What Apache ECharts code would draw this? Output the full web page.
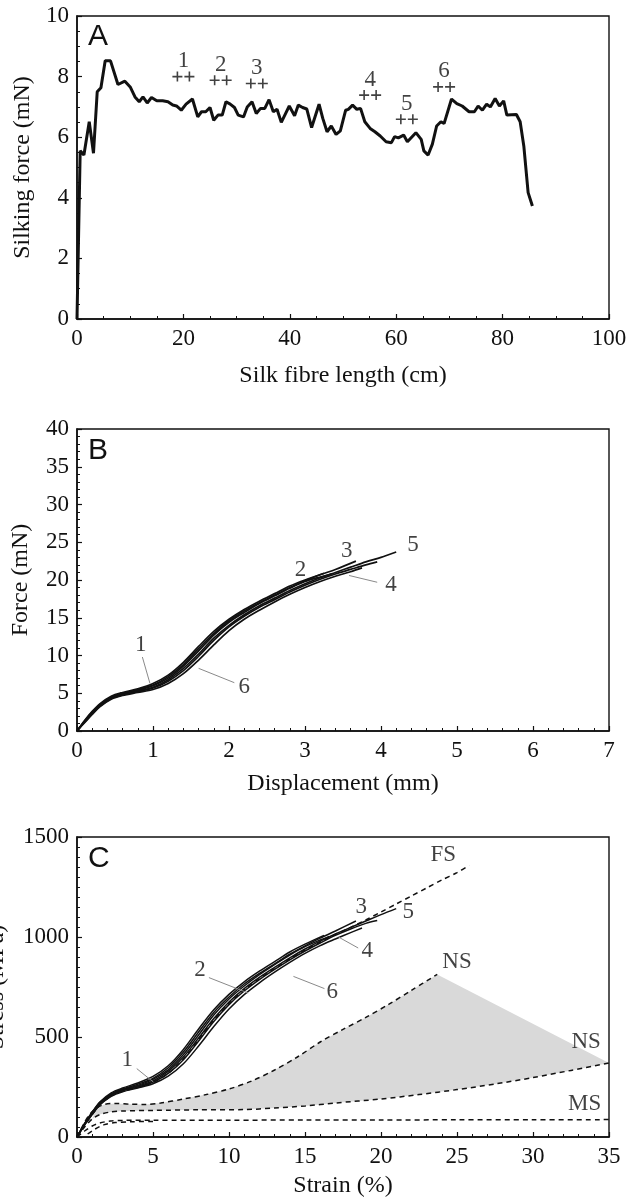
<!DOCTYPE html>
<html><head><meta charset="utf-8">
<script src="https://cdn.jsdelivr.net/npm/echarts@6/dist/echarts.min.js"></script>
<style>html,body{margin:0;padding:0;background:#fff}#c{width:639px;height:1197px}</style>
</head><body><div id="c"></div>
<script>
// ---------- Panel A : silking force vs silk fibre length ----------
const aTrace = [[0,0],[0.6,5.55],[1.3,5.41],[2.3,6.51],[3.1,5.47],[3.8,7.5],[4.5,7.63],[5.3,8.52],[6.3,8.52],[7.7,7.74],[9.0,7.85],[10.0,7.66],[10.9,7.33],[11.7,7.17],[12.4,7.33],[13.2,7.13],[14.0,7.31],[15.0,7.2],[16.1,7.2],[17.1,7.17],[18.0,7.06],[18.7,7.03],[19.6,6.89],[20.5,7.09],[21.7,7.26],[22.7,6.67],[23.4,6.84],[24.2,6.84],[25.0,6.98],[25.7,6.56],[26.5,6.73],[27.3,6.73],[28.0,7.17],[28.8,7.09],[29.6,6.98],[30.3,6.73],[31.3,6.67],[32.0,7.0],[32.9,7.17],[33.7,6.78],[34.5,6.95],[35.3,6.95],[36.1,7.24],[36.9,6.84],[37.6,6.92],[38.4,6.49],[39.2,6.78],[39.9,7.03],[40.9,6.71],[41.6,7.06],[42.4,6.98],[43.2,6.93],[44.1,6.32],[45.5,7.09],[46.2,6.62],[47.0,6.18],[47.8,6.37],[48.7,6.09],[49.5,6.21],[50.5,6.89],[51.0,6.92],[51.8,7.06],[52.6,6.92],[53.3,6.95],[54.1,6.51],[55.1,6.29],[56.0,6.18],[57.0,6.04],[58.1,5.85],[59.1,5.82],[59.7,6.02],[60.4,5.98],[61.4,6.07],[62.1,5.85],[63.7,6.15],[64.7,5.93],[65.2,5.55],[66.0,5.41],[66.8,5.77],[67.6,6.37],[68.4,6.51],[69.0,6.45],[70.4,7.26],[71.4,7.11],[72.4,7.03],[73.7,6.84],[74.7,6.84],[75.4,7.03],[76.2,6.89],[77.0,7.09],[77.7,7.0],[78.6,7.28],[79.4,7.03],[80.2,7.2],[80.8,6.73],[82.6,6.75],[83.3,6.51],[84.0,5.69],[84.8,4.17],[85.6,3.73]];
const aMarkers = [[20.0,8.0,'1'],[27.0,7.88,'2'],[33.8,7.77,'3'],[55.1,7.39,'4'],[62.0,6.59,'5'],[69.0,7.66,'6']];

// ---------- Panel B : force vs displacement (6 samples) ----------
const bCurve1 = [[0,0],[0.1,1.3],[0.2,2.4],[0.3,3.4],[0.45,4.4],[0.6,4.9],[0.8,5.4],[1.0,6.0],[1.2,7.0],[1.4,8.6],[1.6,10.6],[1.8,12.7],[2.0,14.4],[2.2,15.7],[2.4,16.9],[2.6,17.9],[2.8,18.9],[3.0,19.8],[3.2,20.4],[3.35,20.8]];
const bCurve2 = [[0,0],[0.1,1.4],[0.2,2.6],[0.3,3.6],[0.45,4.6],[0.6,5.1],[0.8,5.6],[1.0,6.3],[1.2,7.4],[1.4,9.1],[1.6,11.2],[1.8,13.2],[2.0,14.8],[2.2,16.1],[2.4,17.2],[2.6,18.2],[2.8,19.2],[3.0,20.0],[3.25,20.9]];
const bCurve3 = [[0,0],[0.1,1.3],[0.2,2.5],[0.3,3.5],[0.45,4.5],[0.6,5.0],[0.8,5.5],[1.0,6.1],[1.2,7.2],[1.4,8.8],[1.6,10.9],[1.8,12.9],[2.0,14.6],[2.2,15.9],[2.4,17.0],[2.6,18.0],[2.8,19.0],[3.0,19.9],[3.2,20.7],[3.4,21.4],[3.67,22.5]];
const bCurve4 = [[0,0],[0.1,1.2],[0.2,2.3],[0.3,3.3],[0.45,4.3],[0.6,4.8],[0.8,5.2],[1.0,5.7],[1.2,6.6],[1.4,8.0],[1.6,9.9],[1.8,12.0],[2.0,13.8],[2.2,15.2],[2.4,16.4],[2.6,17.4],[2.8,18.4],[3.0,19.3],[3.2,20.1],[3.4,20.8],[3.6,21.4],[3.8,22.0],[3.95,22.4]];
const bCurve5 = [[0,0],[0.1,1.2],[0.2,2.3],[0.3,3.3],[0.45,4.3],[0.6,4.8],[0.8,5.3],[1.0,5.8],[1.2,6.8],[1.4,8.3],[1.6,10.2],[1.8,12.3],[2.0,14.0],[2.2,15.4],[2.4,16.6],[2.6,17.6],[2.8,18.6],[3.0,19.5],[3.2,20.3],[3.4,21.0],[3.6,21.7],[3.8,22.4],[4.0,23.0],[4.2,23.7]];
const bCurve6 = [[0,0],[0.1,1.1],[0.2,2.2],[0.3,3.2],[0.45,4.2],[0.6,4.7],[0.8,5.1],[1.0,5.5],[1.2,6.3],[1.4,7.6],[1.6,9.4],[1.8,11.4],[2.0,13.3],[2.2,14.8],[2.4,16.0],[2.6,17.1],[2.8,18.1],[3.0,19.0],[3.2,19.8],[3.4,20.5],[3.6,21.1],[3.75,21.6]];
const bLabels = [[0.84,11.4,'1'],[2.94,21.3,'2'],[3.55,23.9,'3'],[4.13,19.3,'4'],[4.42,24.7,'5'],[2.2,5.85,'6']];
const bLeaders = [[[0.86,9.8],[0.96,6.3]],[[1.6,8.3],[2.07,6.4]],[[3.58,20.6],[3.95,19.7]]];

// ---------- Panel C : stress vs strain ----------
const cCurve1 = [[0,0],[0.5,65],[1,120],[1.5,170],[2.25,212],[3,236],[4,258],[5,288],[6,336],[7,412],[8,510],[9,610],[10,690],[11,755],[12,812],[13,862],[14,910],[15,952],[16,985],[16.6,1003]];
const cCurve2 = [[0,0],[0.5,68],[1,125],[1.5,175],[2.25,221],[3,245],[4,270],[5,303],[6,356],[7,438],[8,540],[9,636],[10,713],[11,776],[12,829],[13,877],[14,925],[15,964],[16.25,1008]];
const cCurve3 = [[0,0],[0.5,66],[1,122],[1.5,172],[2.25,216],[3,240],[4,264],[5,293],[6,346],[7,425],[8,525],[9,623],[10,700],[11,765],[12,818],[13,866],[14,914],[15,956],[16,994],[17,1030],[18.35,1080]];
const cCurve4 = [[0,0],[0.5,62],[1,115],[1.5,163],[2.25,207],[3,231],[4,250],[5,274],[6,318],[7,386],[8,480],[9,578],[10,662],[11,730],[12,787],[13,838],[14,886],[15,930],[16,970],[17,1008],[18,1040],[19,1068],[19.75,1082]];
const cCurve5 = [[0,0],[0.5,62],[1,116],[1.5,165],[2.25,209],[3,233],[4,255],[5,280],[6,328],[7,400],[8,495],[9,592],[10,675],[11,742],[12,798],[13,848],[14,896],[15,940],[16,979],[17,1015],[18,1048],[19,1080],[20,1112],[21,1142]];
const cCurve6 = [[0,0],[0.5,60],[1,112],[1.5,160],[2.25,203],[3,226],[4,245],[5,266],[6,304],[7,366],[8,455],[9,552],[10,640],[11,712],[12,771],[13,824],[14,873],[15,918],[16,957],[17,990],[18,1022],[18.75,1045]];
const cFS = [[0,0],[0.5,60],[1,112],[1.5,160],[2.25,205],[3,228],[4,248],[5,272],[6,318],[7,390],[8,487],[9,585],[10,668],[11,735],[12,792],[13,842],[14,890],[15,935],[16,975],[17,1013],[18,1048],[19,1085],[20,1125],[21,1165],[22,1205],[23,1245],[24,1285],[25,1322],[25.8,1358]];
const cNSupper = [[0,0],[0.4,60],[0.8,110],[1.3,145],[1.8,163],[2.5,168],[3.5,164],[4.5,163],[5.5,170],[7,190],[8.5,212],[10,240],[11.5,280],[13,335],[14.5,400],[16,475],[17.5,538],[19,598],[20.5,663],[22,733],[23.7,813]];
const cNSlower = [[0,0],[0.5,50],[1,90],[1.5,112],[2.2,125],[3,130],[5,133],[8,136],[11,137],[13,145],[15,155],[17,170],[20,190],[22.5,212],[25,237],[27.5,265],[30,297],[32.5,333],[35,370]];
const cMS = [[0,0],[0.5,30],[1,55],[1.5,70],[2.2,80],[3,83],[5,84],[10,84],[15,85],[20,85],[25,86],[30,86],[35,87]];
const cMS2 = [[0.7,15],[1.2,40],[1.8,62],[2.5,72],[3.5,76],[5,78]];
const cLabels = [[24.1,1408,'FS'],[25.0,875,'NS'],[33.5,475,'NS'],[33.4,167,'MS'],[18.7,1150,'3'],[21.8,1125,'5'],[19.1,930,'4'],[8.1,833,'2'],[16.8,725,'6'],[3.3,383,'1']];
const cLeaders = [[[17.2,1000],[18.5,945]],[[8.68,797],[11.26,720]],[[14.24,803],[16.28,742]],[[3.93,342],[5.02,275]]];

// ---------- tick settings ----------
const aX = {min:0,max:100,interval:20,minor:4}, aY = {min:0,max:10,interval:2,minor:4};
const bX = {min:0,max:7,interval:1,minor:5}, bY = {min:0,max:40,interval:5,minor:5};
const cX = {min:0,max:35,interval:5,minor:5}, cY = {min:0,max:1500,interval:500,minor:10};

const SERIF = '"Liberation Serif", "Times New Roman", Times, serif';
const INK = '#111111';
const TICK_FS = 23, TITLE_FS = 24, NOTE_FS = 23;

function axisCommon(s, name, gap){
  return {type:'value', min:s.min, max:s.max, interval:s.interval,
    name:name, nameLocation:'middle', nameGap:gap,
    nameTextStyle:{fontFamily:SERIF, fontSize:TITLE_FS, color:INK},
    axisLine:{show:true, onZero:false, lineStyle:{color:INK, width:1.6}},
    axisTick:{show:true, inside:true, length:5, lineStyle:{color:INK, width:1.2}},
    minorTick:{show:true, splitNumber:s.minor, length:3, lineStyle:{color:INK, width:1}},
    axisLabel:{fontFamily:SERIF, fontSize:TICK_FS, color:INK, margin:8, formatter:v=>String(v)},
    splitLine:{show:false}, minorSplitLine:{show:false}};
}
function xAx(idx, s, name, gap){ return Object.assign(axisCommon(s,name,gap), {gridIndex:idx}); }
function yAx(idx, s, name, gap){ return Object.assign(axisCommon(s,name,gap), {gridIndex:idx}); }
function solid(i, data, w, smooth){
  return {type:'line', xAxisIndex:i, yAxisIndex:i, data:data, symbol:'none', smooth:smooth,
    lineStyle:{color:INK, width:w}, z:3, silent:true};
}
function dashed(i, data){
  return {type:'line', xAxisIndex:i, yAxisIndex:i, data:data, symbol:'none', smooth:0.3,
    lineStyle:{color:INK, width:1.5, type:[5,4]}, z:4, silent:true};
}
function leader(i, seg){
  return {type:'line', xAxisIndex:i, yAxisIndex:i, data:seg, symbol:'none',
    lineStyle:{color:'#8a8a8a', width:1}, z:5, silent:true};
}
function labels(i, data){
  return {type:'scatter', xAxisIndex:i, yAxisIndex:i, data:data, symbolSize:1,
    itemStyle:{color:'rgba(0,0,0,0)'}, z:6, silent:true,
    label:{show:true, position:'inside', formatter:p=>p.data[2], fontFamily:SERIF, fontSize:NOTE_FS, color:INK}};
}

const series = [];
// Panel A
series.push(solid(0, aTrace, 3, false));
series.push({type:'scatter', xAxisIndex:0, yAxisIndex:0, data:aMarkers, silent:true, z:5,
  symbol:'path://M0,4.2h10v1.6H0z M4.2,0h1.6v10H4.2z M12,4.2h10v1.6H12z M16.2,0h1.6v10h-1.6z',
  symbolSize:[22,10], itemStyle:{color:INK},
  label:{show:true, position:'top', distance:-1, formatter:p=>p.data[2], fontFamily:SERIF, fontSize:NOTE_FS, color:INK}});
// Panel B
[bCurve1,bCurve2,bCurve3,bCurve4,bCurve5,bCurve6].forEach(c=>series.push(solid(1, c, 1.7, 0.3)));
bLeaders.forEach(s=>series.push(leader(1, s)));
series.push(labels(1, bLabels));
// Panel C gray region between NS curves
series.push({type:'custom', xAxisIndex:2, yAxisIndex:2, data:[[0,0]], z:1, silent:true,
  renderItem:(params, api)=>{
    const up = cNSupper.filter(p=>p[0]>=1);
    const lo = cNSlower.filter(p=>p[0]>=1).slice().reverse();
    const pts = up.concat(lo).map(p=>api.coord(p));
    return {type:'polygon', shape:{points:pts}, style:{fill:'#d9d9d9'}};
  }});
[cCurve1,cCurve2,cCurve3,cCurve4,cCurve5,cCurve6].forEach(c=>series.push(solid(2, c, 1.5, 0.3)));
[cFS,cNSupper,cNSlower,cMS,cMS2].forEach(c=>series.push(dashed(2, c)));
cLeaders.forEach(s=>series.push(leader(2, s)));
series.push(labels(2, cLabels));

const grids = [
  {left:77, top:16, width:532, height:303},
  {left:77, top:429, width:532, height:302},
  {left:77, top:837, width:532, height:300}
].map(g=>Object.assign(g, {show:true, containLabel:false, outerBoundsMode:'none',
  borderColor:INK, borderWidth:1.4, backgroundColor:'transparent'}));

const chart = echarts.init(document.getElementById('c'), null, {renderer:'canvas'});
chart.setOption({
  animation:false,
  backgroundColor:'#ffffff',
  grid:grids,
  xAxis:[xAx(0,aX,'Silk fibre length (cm)',45), xAx(1,bX,'Displacement (mm)',41), xAx(2,cX,'Strain (%)',37)],
  yAxis:[yAx(0,aY,'Silking force (mN)',38), yAx(1,bY,'Force (mN)',44), yAx(2,cY,'Stress (MPa)',68)],
  graphic:[
    {type:'text', left:88, top:22, style:{text:'A', font:'30px "Liberation Sans", Arial, sans-serif', fill:INK}},
    {type:'text', left:88, top:436, style:{text:'B', font:'30px "Liberation Sans", Arial, sans-serif', fill:INK}},
    {type:'text', left:88, top:844, style:{text:'C', font:'30px "Liberation Sans", Arial, sans-serif', fill:INK}}
  ],
  series:series
});
</script></body></html>
